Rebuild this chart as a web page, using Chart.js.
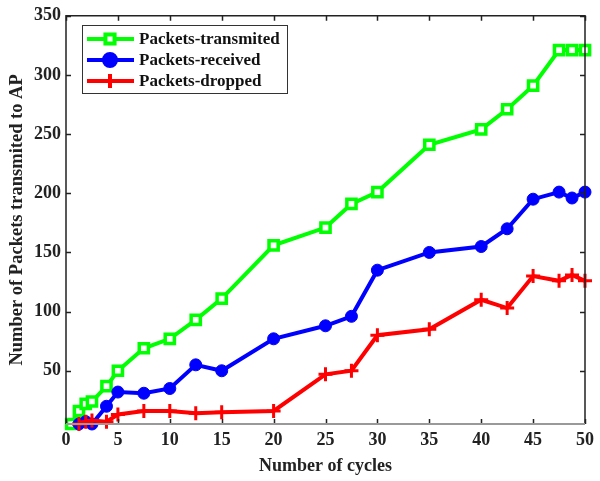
<!DOCTYPE html>
<html>
<head>
<meta charset="utf-8">
<script src="https://cdn.jsdelivr.net/npm/chart.js@4/dist/chart.umd.min.js"></script>
<style>
  html, body { margin: 0; padding: 0; background: #fff; }
  #wrap { width: 600px; height: 481px; }
</style>
</head>
<body>
<div id="wrap"><canvas id="packetsChart" width="600" height="481"></canvas></div>
<script>
// ---------------- Data ----------------
const xTransmitted = [0.5, 1.25, 1.9, 2.5, 3.9, 5, 7.5, 10, 12.5, 15, 20, 25, 27.5, 30, 35, 40, 42.5, 45, 47.5, 48.75, 50];
const transmitted  = [5, 16, 22, 24, 37, 50, 69, 77, 93, 111, 156, 171, 191, 201, 241, 254, 271, 291, 321, 321, 321];

const xReceived = [1.25, 1.9, 2.5, 3.9, 5, 7.5, 10, 12.5, 15, 20, 25, 27.5, 30, 35, 40, 42.5, 45, 47.5, 48.75, 50];
const received  = [5, 7, 5, 20, 32, 31, 35, 55, 50, 77, 88, 96, 135, 150, 155, 170, 195, 201, 196, 201];

const xDropped = [1.25, 1.9, 2.5, 3.9, 5, 7.5, 10, 12.5, 15, 20, 25, 27.5, 30, 35, 40, 42.5, 45, 47.5, 48.75, 50];
const dropped  = [5, 7, 8, 7, 13, 16, 16, 14, 15, 16, 47, 50, 80, 85, 110, 103, 130, 126, 131, 126];

const xTicks = [0, 5, 10, 15, 20, 25, 30, 35, 40, 45, 50];
const yTicks = [50, 100, 150, 200, 250, 300, 350];

const FONT = '"Liberation Serif", "Times New Roman", serif';

const pts = (xs, ys) => xs.map((x, i) => ({ x: x, y: ys[i] }));

// axis box + inward ticks, matlab style
const boxPlugin = {
    id: 'box',
    afterDatasetsDraw(chart) {
        const { ctx, chartArea: a, scales } = chart;
        ctx.save();
        ctx.lineWidth = 1.5;
        ctx.strokeStyle = '#222';
        ctx.beginPath();
        xTicks.forEach(v => {
            const px = Math.round(scales.x.getPixelForValue(v)) + 0.5;
            ctx.moveTo(px, a.bottom); ctx.lineTo(px, a.bottom - 5);
            ctx.moveTo(px, a.top); ctx.lineTo(px, a.top + 5);
        });
        yTicks.forEach(v => {
            const py = Math.round(scales.y.getPixelForValue(v)) + 0.5;
            ctx.moveTo(a.left, py); ctx.lineTo(a.left + 5, py);
            ctx.moveTo(a.right, py); ctx.lineTo(a.right - 5, py);
        });
        ctx.stroke();
        ctx.beginPath();
        ctx.moveTo(a.left, a.bottom); ctx.lineTo(a.left, a.top);
        ctx.lineTo(a.right, a.top); ctx.lineTo(a.right, a.bottom);
        ctx.stroke();
        ctx.strokeStyle = '#999';
        ctx.lineWidth = 2;
        ctx.beginPath();
        ctx.moveTo(a.left, a.bottom); ctx.lineTo(a.right, a.bottom);
        ctx.stroke();
        ctx.restore();
    }
};

// legend box in upper-left corner of plot
const legendPlugin = {
    id: 'boxLegend',
    afterDraw(chart) {
        const { ctx } = chart;
        const x0 = 82, y0 = 25, w = 205, h = 68;
        ctx.save();
        ctx.fillStyle = '#fff';
        ctx.fillRect(x0, y0, w, h);
        ctx.strokeStyle = '#333';
        ctx.lineWidth = 1;
        ctx.strokeRect(x0 + 0.5, y0 + 0.5, w, h);
        chart.data.datasets.forEach((ds, i) => {
            const cy = y0 + 14 + i * 21;
            ctx.strokeStyle = ds.borderColor;
            ctx.lineWidth = 4;
            ctx.beginPath();
            ctx.moveTo(x0 + 5, cy); ctx.lineTo(x0 + 52, cy);
            ctx.stroke();
            ctx.fillStyle = ds.pointBackgroundColor;
            ctx.strokeStyle = ds.pointBorderColor;
            Chart.helpers.drawPoint(ctx, {
                pointStyle: ds.pointStyle,
                radius: ds.pointRadius,
                borderWidth: ds.pointBorderWidth
            }, x0 + 28, cy);
            ctx.fillStyle = '#111';
            ctx.font = 'bold 17px ' + FONT;
            ctx.textBaseline = 'middle';
            ctx.fillText(ds.label, x0 + 57, cy + 1);
        });
        ctx.restore();
    }
};

const ctx = document.getElementById('packetsChart').getContext('2d');
new Chart(ctx, {
    type: 'line',
    data: {
        datasets: [
            {
                label: 'Packets-transmited', data: pts(xTransmitted, transmitted),
                borderColor: '#00ff00', backgroundColor: '#ffffff',
                pointStyle: 'rect', pointRadius: 6.5, pointBorderWidth: 3.5,
                pointBorderColor: '#00ff00', pointBackgroundColor: '#ffffff',
                borderWidth: 4, order: 3
            },
            {
                label: 'Packets-received', data: pts(xReceived, received),
                borderColor: '#0000ff', backgroundColor: '#0000ff',
                pointStyle: 'circle', pointRadius: 6, pointBorderWidth: 1,
                pointBorderColor: '#0000ff', pointBackgroundColor: '#0000ff',
                borderWidth: 4, order: 2
            },
            {
                label: 'Packets-dropped', data: pts(xDropped, dropped),
                borderColor: '#ff0000', backgroundColor: '#ff0000',
                pointStyle: 'cross', pointRadius: 7, pointBorderWidth: 3,
                pointBorderColor: '#ff0000', pointBackgroundColor: '#ff0000',
                borderWidth: 4, order: 1
            }
        ]
    },
    options: {
        responsive: false,
        animation: false,
        clip: false,
        layout: { padding: { top: 14, right: 11, left: 0, bottom: 0 } },
        plugins: { legend: { display: false }, tooltip: { enabled: false } },
        scales: {
            x: {
                type: 'linear', min: 0, max: 50,
                afterBuildTicks: s => { s.ticks = xTicks.map(v => ({ value: v })); },
                afterFit: s => { s.height = 57; },
                grid: { display: false, drawTicks: false },
                border: { display: false },
                ticks: { color: '#222', padding: 6, font: { family: FONT, size: 18, weight: 'bold' } },
                title: { display: true, text: 'Number of cycles', color: '#222', padding: { top: 0, bottom: 4 },
                         font: { family: FONT, size: 18, weight: 'bold' } }
            },
            y: {
                type: 'linear', min: 5, max: 350,
                afterBuildTicks: s => { s.ticks = yTicks.map(v => ({ value: v })); },
                afterFit: s => { s.width = 66; },
                grid: { display: false, drawTicks: false },
                border: { display: false },
                ticks: { color: '#222', padding: 5, font: { family: FONT, size: 18, weight: 'bold' } },
                title: { display: true, text: 'Number of Packets transmited to AP', color: '#222', padding: { top: 6, bottom: 0 },
                         font: { family: FONT, size: 18.5, weight: 'bold' } }
            }
        }
    },
    plugins: [boxPlugin, legendPlugin]
});
</script>
</body>
</html>
